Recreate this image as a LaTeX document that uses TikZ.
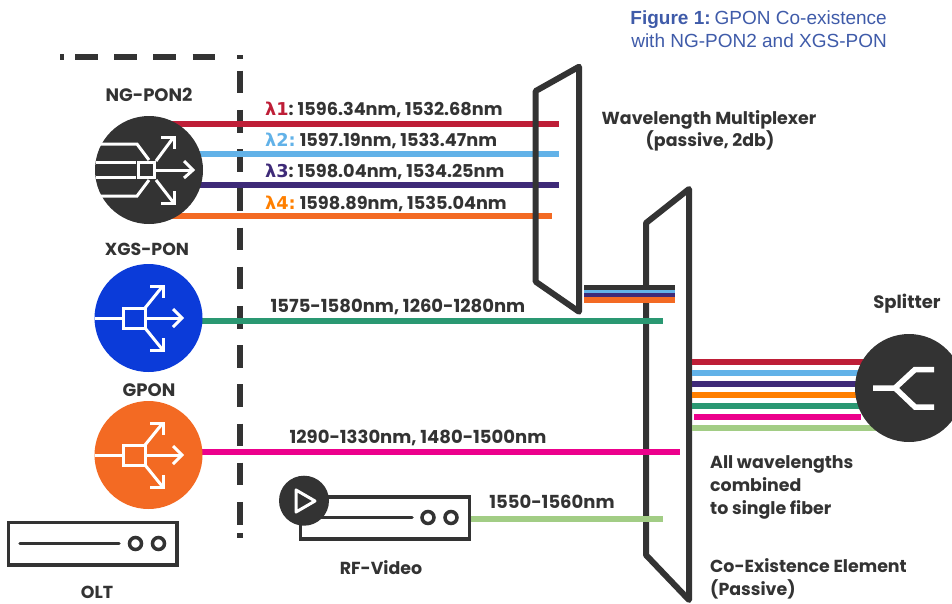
\documentclass[tikz,border=0pt]{standalone}
\usepackage{fontspec}
\usepackage{xcolor}
\setmainfont{Poppins}
\newfontfamily\headfont{Liberation Sans}
\newfontfamily\lamfont{DejaVu Sans}
\usetikzlibrary{arrows.meta}

\definecolor{ink}{HTML}{333333}
\definecolor{lamred}{HTML}{BE1E37}
\definecolor{lamblue}{HTML}{62B2E8}
\definecolor{lampurple}{HTML}{3E2A78}
\definecolor{lamorange}{HTML}{F36A23}
\definecolor{lamtext}{HTML}{FF7F00}
\definecolor{pongreen}{HTML}{2A9872}
\definecolor{ponpink}{HTML}{EC008C}
\definecolor{rfgreen}{HTML}{A2CD85}
\definecolor{ponblue}{HTML}{0B3BD9}
\definecolor{headblue}{HTML}{3F5BA9}

\tikzset{
  fiber/.style={line width=6pt},
  wall/.style={ink, line width=6pt, line join=round},
  boundary/.style={ink, line width=6pt, dash pattern=on 22.6pt off 16.6pt},
  rack/.style={ink, line width=3.5pt, line cap=round},
  olt/.style={circle, fill=#1, minimum size=108pt, inner sep=0pt},
  icon/.style={white, line width=3pt},
  tag/.style={ink, font=\bfseries\fontsize{17.4}{20}\selectfont, inner sep=0pt, anchor=base},
  numtag/.style={ink, font=\bfseries\fontsize{18}{20}\selectfont, inner sep=0pt, anchor=base},
  lamtag/.style={ink, font=\bfseries\fontsize{17.7}{20}\selectfont, inner sep=0pt, anchor=base west},
}

% white splitter drawn at the centre of its square
\newcommand{\ponicon}[2]{
  \draw[icon] (#1-39,#2) -- (#1-11,#2);
  \draw[icon] (#1-11,#2-10) rectangle (#1+11,#2+10);
  \draw[icon] (#1+11,#2-10) -- (#1+28,#2-31);
  \draw[icon] (#1+16,#2-32) -- (#1+29,#2-32) -- (#1+29,#2-20);
  \draw[icon] (#1+11,#2) -- (#1+47,#2);
  \draw[icon] (#1+39,#2-9) -- (#1+48,#2) -- (#1+39,#2+9);
  \draw[icon] (#1+11,#2+10) -- (#1+28,#2+31);
  \draw[icon] (#1+16,#2+32) -- (#1+29,#2+32) -- (#1+29,#2+20);
}

\begin{document}
\begin{tikzpicture}[x=1pt,y=-1pt]
  \clip (0,0) rectangle (952,603);

  % customer boundary
  \draw[boundary] (75,57) -- (222,57);
  \draw[boundary] (240,70.7) -- (240,526);
  \draw[ink, line width=6pt] (60,57) -- (64,57);
  \draw[ink, line width=6pt] (240,55) -- (240,59);
  \draw[ink, line width=6pt] (240,533) -- (240,538);

  % line ends
  \coordinate (redA) at (170,123.5);
  \coordinate (redB) at (559,123.5);
  \coordinate (blueA) at (195,154);
  \coordinate (blueB) at (559,154);
  \coordinate (purpleA) at (195,184.5);
  \coordinate (purpleB) at (559,184.5);
  \coordinate (orangeA) at (170,215.5);
  \coordinate (orangeB) at (551.5,215.5);
  \coordinate (xgsA) at (195,321);
  \coordinate (xgsB) at (663,321);
  \coordinate (gponA) at (195,452);
  \coordinate (gponB) at (679.5,452);
  \coordinate (rfA) at (469,518.5);
  \coordinate (rfB) at (663,518.5);

  \draw[fiber, lamred] (redA) -- (redB);
  \draw[fiber, lamblue] (blueA) -- (blueB);
  \draw[fiber, lampurple] (purpleA) -- (purpleB);
  \draw[fiber, lamorange] (orangeA) -- (orangeB);

  % multiplexer and co-existence element
  \draw[wall] (535.7,91) -- (579,66.7) -- (579,311.7) -- (535.7,281.7) -- cycle;
  \draw[wall] (646,223) -- (689,189) -- (689,600) -- (646,555) -- cycle;

  \coordinate (busA) at (584,0);
  \coordinate (busB) at (675,0);
  \draw[ink, line width=5pt] (busA |- 0,287.5) -- (busB |- 0,287.5);
  \draw[lamblue, line width=3pt] (busA |- 0,291.5) -- (busB |- 0,291.5);
  \draw[lampurple, line width=4pt] (busA |- 0,295) -- (busB |- 0,295);
  \draw[lamorange, line width=6pt] (busA |- 0,300) -- (busB |- 0,300);

  \draw[fiber, pongreen] (xgsA) -- (xgsB);
  \draw[fiber, ponpink] (gponA) -- (gponB);
  \draw[fiber, rfgreen] (rfA) -- (rfB);

  % combined fibers into the splitter
  \foreach \y/\c/\xa/\xb in {362.3/lamred/692/890, 373.3/lamblue/692/890, 384.3/lampurple/692/890,
      395/lamtext/692/890, 405.7/pongreen/692/890, 416.7/ponpink/694/861, 428/rfgreen/692/890}
    \draw[fiber, \c] (\xa,\y) -- (\xb,\y);

  % PON ports
  \node[olt=ink] (ngpon) at (149,170) {};
  \node[olt=ponblue] (xgspon) at (148.5,318) {};
  \node[olt=lamorange] (gpon) at (148.5,455) {};
  \node[olt=ink] (splitter) at (909,388) {};

  \ponicon{134}{318}
  \ponicon{134}{455}

  % NG-PON2 icon
  \draw[icon] (97,144) -- (137,144) -- (149,160);
  \draw[icon] (96,162) -- (136,162);
  \draw[icon] (96,177) -- (136,177);
  \draw[icon] (97,196) -- (137,196) -- (149,180);
  \draw[icon] (138,162) rectangle (154,177);
  \draw[icon] (156,161) -- (173,138);
  \draw[icon] (161,137) -- (174,137) -- (174,149);
  \draw[icon] (156,170) -- (192,170);
  \draw[icon] (184,161) -- (193,170) -- (184,178);
  \draw[icon] (156,180) -- (173,202);
  \draw[icon] (161,203) -- (174,203) -- (174,191);

  % splitter icon
  \draw[white, line width=5.5pt] (873,388) -- (895,388) -- (915,369.5) -- (934,369.5);
  \draw[white, line width=5.5pt] (895,388) -- (915,407) -- (934,407);

  % OLT
  \draw[rack] (8.5,522.5) rectangle (177,565);
  \draw[rack] (20,543.5) -- (119,543.5);
  \draw[rack] (135.5,543.5) circle[radius=6];
  \draw[rack] (158.5,543.5) circle[radius=6];

  % RF-Video
  \draw[rack] (300.5,497) rectangle (469.5,539);
  \draw[rack] (320,517.5) -- (412,517.5);
  \draw[rack] (428,517.5) circle[radius=6];
  \draw[rack] (451,517.5) circle[radius=6];
  \node[olt=ink, minimum size=50pt] (play) at (304,500.7) {};
  \draw[white, line width=3pt, line join=round] (296,490) -- (315,501) -- (296,512) -- cycle;

  % labels
  \node[numtag] (ngponlabel) at (149,101.5) {NG-PON2};
  \node[tag] (xgslabel) at (147,255) {XGS-PON};
  \node[numtag] (gponlabel) at (149,396) {GPON};
  \node[tag] (oltlabel) at (97,598) {OLT};
  \node[tag] (rflabel) at (381,574) {RF-Video};
  \node[numtag] (splitterlabel) at (907,308) {Splitter};
  \node[lamtag] (lamA) at (265,115) {{\color{lamred}\lamfont\bfseries λ1}:\hspace{4pt}1596.34nm, 1532.68nm};
  \node[lamtag] (lamB) at (265,146) {{\color{lamblue}\lamfont\bfseries λ2:}\hspace{4pt}1597.19nm, 1533.47nm};
  \node[lamtag] (lamC) at (265,177.5) {{\color{lampurple}\lamfont\bfseries λ3}:\hspace{4pt}1598.04nm, 1534.25nm};
  \node[lamtag] (lamD) at (265,209) {{\color{lamtext}\lamfont\bfseries λ4:}\hspace{4pt}1598.89nm, 1535.04nm};
  \node[numtag] (xgswave) at (398,312) {1575-1580nm, 1260-1280nm};
  \node[numtag] (gponwave) at (418,443) {1290-1330nm, 1480-1500nm};
  \node[numtag] (rfwave) at (552,508) {1550-1560nm};
  \node[tag] (muxlabel) at (709,124) {Wavelength Multiplexer};
  \node[tag] (muxnote) at (710,146) {(passive, 2db)};
  \node[tag, anchor=base west] (allA) at (710,468) {All wavelengths};
  \node[tag, anchor=base west] (allB) at (710,491) {combined};
  \node[tag, anchor=base west] (allC) at (710,514) {to single fiber};
  \node[tag, anchor=base west] (coexA) at (710,572) {Co-Existence Element};
  \node[tag, anchor=base west] (coexB) at (710,595) {(Passive)};
  \node[headblue, anchor=east, align=right, inner sep=0pt, font=\headfont\fontsize{19}{23}\selectfont] (figlabel) at (887,29)
    {\textbf{Figure 1:}\hspace{4pt}GPON Co-existence\\with NG-PON2 and XGS-PON};
\end{tikzpicture}
\end{document}
